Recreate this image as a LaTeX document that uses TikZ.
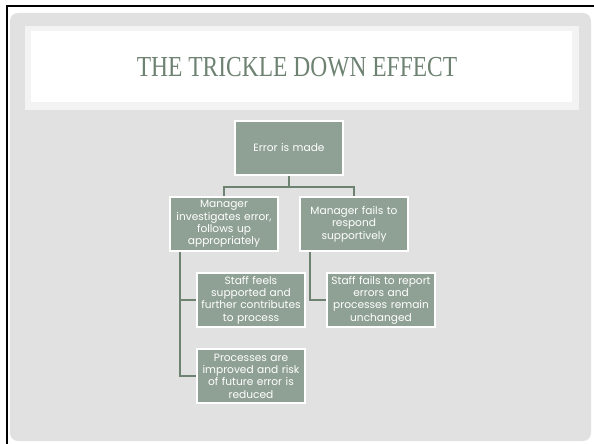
\documentclass[tikz,border=0pt]{standalone}
\usepackage{fontspec}
\setmainfont{Liberation Serif}
\newfontfamily\boxfont{Poppins}
\usetikzlibrary{positioning}
\definecolor{slide}{HTML}{E1E1E1}
\definecolor{band}{HTML}{F3F3F3}
\definecolor{sage}{HTML}{8FA194}
\definecolor{sagedark}{HTML}{6E8272}

\begin{document}
\begin{tikzpicture}[x=1pt,y=-1pt,
            step box/.style={rectangle, draw=white, line width=1.8pt, fill=sage,
                    minimum width=108pt, minimum height=54pt, text width=108pt,
                    inner sep=0pt, align=center, text=white,
                    font=\boxfont\fontsize{10.6}{12.4}\selectfont},
            conn/.style={draw=sagedark, line width=1.4pt}]

        \useasboundingbox (0,0) rectangle (594,444);
        \fill[white] (0,0) rectangle (594,444);
        \fill[slide, rounded corners=8pt] (10,13) rectangle (591,441);
        \fill[band] (25,26) rectangle (579,110);
        \fill[white] (31,31) rectangle (572,102);
        \draw[black, line width=2.4pt] (7,444) -- (7,6) -- (594,6);

        \node[anchor=base, text=sagedark, font=\fontsize{29}{29}\selectfont] (title) at (297,77)
            {\scalebox{0.81}[1]{THE TRICKLE DOWN EFFECT}};

        \node[step box] (err) at (289,148) {Error is made};
        \node[step box] (inv) at (224,224) {Manager\\investigates error,\\follows up\\appropriately};
        \node[step box] (fail) at (354,224) {Manager fails to\\respond\\supportively};
        \node[step box] (sup) at (251,300) {Staff feels\\supported and\\further contributes\\to process};
        \node[step box] (imp) at (251,376) {Processes are\\improved and risk\\of future error is\\reduced};
        \node[step box] (rep) at (381,300) {Staff fails to report\\errors and\\processes remain\\unchanged};

        \draw[conn] (err.south) -- ++(0,11) -| (inv.north);
        \draw[conn] (err.south) -- ++(0,11) -| (fail.north);
        \draw[conn] ([xshift=11pt]inv.south west) |- (sup.west);
        \draw[conn] ([xshift=11pt]inv.south west) |- (imp.west);
        \draw[conn] ([xshift=11pt]fail.south west) |- (rep.west);
    \end{tikzpicture}
\end{document}
